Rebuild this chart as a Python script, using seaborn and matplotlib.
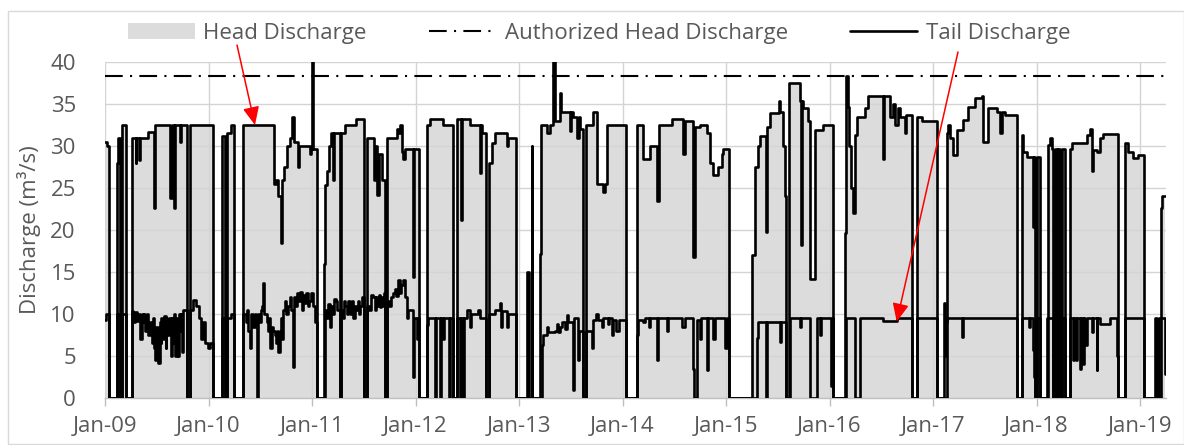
import matplotlib
matplotlib.use("Agg")
import matplotlib.pyplot as plt
import seaborn as sns
from matplotlib.patches import Patch, Rectangle
from matplotlib.lines import Line2D

# ---------------- data (time in decimal years, discharge in m3/s) ----------------
head_t = [
    2009.000, 2009.019, 2009.039, 2009.116, 2009.130, 2009.145, 2009.164, 2009.203, 2009.261, 2009.295,
    2009.304, 2009.324, 2009.338, 2009.415, 2009.473, 2009.483, 2009.628, 2009.643, 2009.667, 2009.681,
    2009.725, 2009.734, 2009.795, 2009.826, 2010.039, 2010.130, 2010.164, 2010.174, 2010.213, 2010.242,
    2010.336, 2010.636, 2010.652, 2010.671, 2010.698, 2010.710, 2010.729, 2010.756, 2010.787, 2010.810,
    2010.826, 2010.865, 2010.879, 2010.981, 2010.995, 2011.000, 2011.010, 2011.045, 2011.116, 2011.126,
    2011.145, 2011.164, 2011.184, 2011.203, 2011.213, 2011.266, 2011.280, 2011.319, 2011.425, 2011.498,
    2011.531, 2011.599, 2011.609, 2011.628, 2011.647, 2011.676, 2011.705, 2011.725, 2011.818, 2011.831,
    2011.850, 2011.870, 2011.882, 2011.899, 2011.979, 2011.990, 2012.037, 2012.108, 2012.140, 2012.268,
    2012.367, 2012.401, 2012.440, 2012.449, 2012.527, 2012.623, 2012.633, 2012.643, 2012.681, 2012.710,
    2012.736, 2012.768, 2012.881, 2012.894, 2012.968, 2013.074, 2013.097, 2013.123, 2013.130, 2013.203,
    2013.213, 2013.271, 2013.300, 2013.333, 2013.343, 2013.396, 2013.406, 2013.493, 2013.502, 2013.525,
    2013.560, 2013.580, 2013.589, 2013.621, 2013.647, 2013.718, 2013.751, 2013.812, 2013.831, 2013.847,
    2014.034, 2014.143, 2014.201, 2014.266, 2014.336, 2014.348, 2014.475, 2014.588, 2014.604, 2014.684,
    2014.696, 2014.749, 2014.816, 2014.845, 2014.877, 2014.926, 2014.958, 2014.974, 2015.032, 2015.254,
    2015.280, 2015.312, 2015.329, 2015.384, 2015.393, 2015.425, 2015.515, 2015.525, 2015.554, 2015.570,
    2015.583, 2015.609, 2015.715, 2015.725, 2015.734, 2015.747, 2015.795, 2015.812, 2015.860, 2015.940,
    2016.037, 2016.150, 2016.159, 2016.174, 2016.188, 2016.208, 2016.227, 2016.251, 2016.266, 2016.343,
    2016.375, 2016.517, 2016.527, 2016.585, 2016.614, 2016.633, 2016.662, 2016.681, 2016.729, 2016.739,
    2016.794, 2016.843, 2016.891, 2017.042, 2017.132, 2017.145, 2017.164, 2017.196, 2017.229, 2017.293,
    2017.341, 2017.406, 2017.471, 2017.486, 2017.534, 2017.615, 2017.647, 2017.662, 2017.696, 2017.809,
    2017.857, 2017.873, 2017.905, 2017.969, 2017.979, 2017.990, 2018.005, 2018.034, 2018.108, 2018.130,
    2018.147, 2018.162, 2018.179, 2018.195, 2018.211, 2018.227, 2018.243, 2018.275, 2018.324, 2018.340,
    2018.485, 2018.517, 2018.533, 2018.546, 2018.582, 2018.614, 2018.646, 2018.790, 2018.855, 2018.887,
    2018.935, 2018.984, 2019.039, 2019.200, 2019.210, 2019.242,
]
head_q = [
    30.5, 30.0, 0, 28, 31, 0, 32.5, 0, 31, 28,
    31, 28.3, 31, 31.7, 22.6, 32.5, 23.8, 32.5, 22.6, 32.5,
    30.5, 32.5, 0, 32.5, 0, 31.2, 0, 31.5, 32.5, 0,
    32.5, 25.5, 26, 24, 18.4, 26, 27.5, 30, 31, 33.5,
    30.5, 27.5, 30, 29, 29.7, 41, 29.7, 0, 16, 25.4,
    27, 30, 31.5, 26, 31.5, 0, 31.5, 32.5, 33.2, 0,
    31, 26, 30, 24.2, 29, 26, 0, 31, 32, 31.5,
    32.5, 29.3, 28.5, 29.7, 14.4, 29.7, 0, 32.5, 33.2, 32.5,
    0, 33.2, 21.2, 33.2, 32.5, 26.8, 32.5, 31.5, 0, 28,
    30.3, 31.5, 30, 31, 0, 15, 0, 30, 0, 17.2,
    32.5, 31.5, 32.5, 41, 33, 36.3, 34.1, 31.8, 34.1, 33.5,
    31, 33.5, 32, 0, 32.5, 34, 25.5, 24.5, 25.5, 32.5,
    0, 32.5, 28.5, 30, 23.4, 32.5, 33.2, 29, 33, 16.8,
    32.3, 32.5, 31.5, 28, 26.5, 27.5, 29, 29.7, 0, 17,
    27.5, 30, 31.2, 19.8, 32.3, 33.9, 35.3, 34, 30, 24,
    0, 37.5, 35.3, 18.2, 35.3, 34.5, 33, 14.2, 31.9, 32.5,
    0, 19.6, 38.3, 34.7, 30, 25, 22, 31.3, 33.5, 34.5,
    35.9, 28.5, 35.9, 33.5, 35, 32.5, 34.5, 33.5, 31.6, 33.7,
    0, 33.5, 33, 0, 31.5, 32.5, 31, 28.9, 31.9, 33.1,
    34.7, 35.7, 35.9, 30.5, 34.5, 34, 31.5, 34, 33.7, 0,
    31.3, 29.3, 28.7, 20.4, 28.7, 0, 28.7, 0, 30.1, 31,
    29.7, 0, 29.7, 0, 29.7, 0, 29.7, 0, 29.7, 30.3,
    31.3, 32, 27, 29.5, 29.3, 31, 31.4, 0, 30.4, 29.3,
    28.6, 28.9, 0, 22.6, 24, 24,
]

tail_t = [
    2009.000, 2009.014, 2009.039, 2009.116, 2009.145, 2009.164, 2009.203, 2009.261, 2009.275, 2009.290,
    2009.310, 2009.329, 2009.338, 2009.357, 2009.366, 2009.376, 2009.386, 2009.406, 2009.420, 2009.435,
    2009.454, 2009.464, 2009.474, 2009.483, 2009.493, 2009.515, 2009.527, 2009.537, 2009.544, 2009.551,
    2009.570, 2009.585, 2009.592, 2009.599, 2009.618, 2009.638, 2009.647, 2009.659, 2009.669, 2009.681,
    2009.691, 2009.705, 2009.715, 2009.725, 2009.735, 2009.744, 2009.754, 2009.795, 2009.826, 2009.850,
    2009.879, 2009.908, 2009.928, 2009.947, 2009.966, 2009.995, 2010.014, 2010.039, 2010.130, 2010.164,
    2010.174, 2010.213, 2010.242, 2010.336, 2010.360, 2010.375, 2010.385, 2010.401, 2010.411, 2010.431,
    2010.445, 2010.458, 2010.471, 2010.483, 2010.500, 2010.508, 2010.517, 2010.531, 2010.541, 2010.565,
    2010.578, 2010.585, 2010.594, 2010.610, 2010.618, 2010.626, 2010.640, 2010.652, 2010.662, 2010.674,
    2010.691, 2010.700, 2010.710, 2010.723, 2010.738, 2010.750, 2010.768, 2010.785, 2010.800, 2010.819,
    2010.829, 2010.840, 2010.852, 2010.865, 2010.878, 2010.888, 2010.900, 2010.913, 2010.930, 2010.945,
    2010.958, 2010.971, 2010.990, 2011.013, 2011.029, 2011.045, 2011.126, 2011.140, 2011.155, 2011.174,
    2011.184, 2011.200, 2011.215, 2011.232, 2011.245, 2011.266, 2011.280, 2011.295, 2011.305, 2011.319,
    2011.335, 2011.350, 2011.367, 2011.386, 2011.400, 2011.412, 2011.425, 2011.440, 2011.452, 2011.464,
    2011.480, 2011.498, 2011.531, 2011.550, 2011.568, 2011.589, 2011.605, 2011.615, 2011.628, 2011.645,
    2011.655, 2011.667, 2011.685, 2011.695, 2011.705, 2011.725, 2011.745, 2011.760, 2011.783, 2011.800,
    2011.815, 2011.831, 2011.850, 2011.862, 2011.879, 2011.899, 2011.915, 2011.928, 2011.976, 2011.986,
    2012.014, 2012.024, 2012.037, 2012.108, 2012.121, 2012.188, 2012.198, 2012.237, 2012.246, 2012.266,
    2012.275, 2012.324, 2012.333, 2012.367, 2012.401, 2012.430, 2012.440, 2012.456, 2012.464, 2012.498,
    2012.527, 2012.536, 2012.604, 2012.623, 2012.681, 2012.710, 2012.768, 2012.816, 2012.826, 2012.836,
    2012.881, 2012.894, 2012.968, 2013.219, 2013.235, 2013.268, 2013.283, 2013.348, 2013.370, 2013.380,
    2013.396, 2013.420, 2013.440, 2013.461, 2013.473, 2013.519, 2013.528, 2013.573, 2013.583, 2013.621,
    2013.647, 2013.702, 2013.718, 2013.744, 2013.764, 2013.800, 2013.810, 2013.860, 2013.870, 2013.900,
    2013.910, 2013.937, 2013.966, 2014.034, 2014.143, 2014.153, 2014.200, 2014.215, 2014.260, 2014.270,
    2014.330, 2014.343, 2014.427, 2014.440, 2014.572, 2014.604, 2014.684, 2014.694, 2014.717, 2014.749,
    2014.763, 2014.814, 2014.826, 2014.877, 2014.889, 2014.990, 2015.010, 2015.032, 2015.297, 2015.312,
    2015.384, 2015.396, 2015.522, 2015.531, 2015.583, 2015.618, 2015.715, 2015.725, 2015.812, 2015.876,
    2015.908, 2015.918, 2016.019, 2016.029, 2016.037, 2016.159, 2016.246, 2016.295, 2016.517, 2016.652,
    2016.794, 2016.843, 2017.042, 2017.106, 2017.116, 2017.126, 2017.132, 2017.280, 2017.290, 2017.809,
    2017.857, 2017.928, 2017.937, 2017.969, 2017.979, 2017.990, 2018.005, 2018.034, 2018.099, 2018.162,
    2018.179, 2018.195, 2018.211, 2018.227, 2018.243, 2018.275, 2018.324, 2018.356, 2018.362, 2018.382,
    2018.391, 2018.420, 2018.430, 2018.449, 2018.459, 2018.469, 2018.483, 2018.536, 2018.546, 2018.582,
    2018.589, 2018.614, 2018.710, 2018.778, 2018.790, 2018.855, 2019.039, 2019.145, 2019.164, 2019.184,
    2019.232, 2019.242,
]
tail_q = [
    9.3, 10, 0, 10, 0, 10, 0, 10.3, 9.0, 10.2,
    9.2, 10, 7, 10, 9.0, 10, 8, 10, 7.5, 9,
    6.5, 9.5, 6, 4.5, 8.5, 4.2, 9, 6.5, 9.5, 7,
    9.8, 6, 9.5, 7.5, 9.5, 5, 9.5, 6.5, 10, 5,
    9.5, 5, 10, 8, 10, 5.5, 10.5, 0, 10.5, 11.7,
    11, 9.5, 7, 9, 6.5, 6, 6.5, 0, 9.5, 0,
    9.5, 10, 0, 10, 9, 10.5, 8, 6, 10, 8.5,
    10, 9, 0, 10, 9, 10.5, 11, 13.7, 10, 9,
    8, 9.5, 6, 7, 8.5, 8, 7.5, 6.5, 8, 5.5,
    8, 9.5, 7, 10.5, 11.5, 10, 11, 12, 10.5, 3.7,
    12, 11, 12.5, 12.3, 11.5, 12.6, 10.5, 12.3, 11.3, 12.5,
    11, 11.5, 12.5, 11, 9, 0, 10.5, 9.5, 11.2, 8.5,
    11, 10, 11.8, 11.5, 10.5, 0, 10.5, 9.5, 11.5, 11,
    10, 11.5, 10, 11.5, 9.5, 11, 10.5, 11.5, 10, 11,
    12, 0, 11, 10.5, 12.3, 12, 10.5, 12, 11, 12.3,
    10.8, 12, 11, 12.5, 0, 11.5, 11, 12, 12.5, 13,
    12.2, 14, 12.5, 13.5, 14, 12, 9.5, 10.5, 2.5, 9.5,
    7, 9.5, 0, 8.7, 9.5, 0, 9.5, 0, 9.5, 7,
    9.5, 0, 9.5, 0, 9.5, 0, 9.5, 0, 9.5, 10.5,
    8.5, 10, 10.5, 9.5, 0, 10, 10.5, 11.3, 8.5, 10.3,
    8.5, 10, 0, 6.3, 7.5, 8.5, 7.9, 8, 8.8, 7.8,
    8.5, 9, 8.2, 9.9, 9, 1, 9.5, 4.5, 8, 0,
    8, 5.9, 9.3, 10, 9.3, 8.5, 9.5, 8.8, 9.5, 7.5,
    9.3, 8, 9.3, 0, 7.5, 9.3, 9, 9.5, 8.5, 9.5,
    4.5, 9.5, 8, 9.5, 8.5, 9.5, 3.5, 0, 9.3, 7,
    9.5, 3.3, 9.5, 7, 9.5, 5.9, 9.5, 0, 7.1, 9.1,
    0, 9.1, 6.7, 9.1, 0, 9.5, 8.5, 9.5, 0, 9.5,
    7.5, 9.5, 1.4, 9.5, 0, 9.5, 0, 9.5, 9.2, 9.5,
    0, 9.5, 0, 11.3, 5, 9, 9.5, 7.3, 9.5, 0,
    9.5, 8.5, 9.5, 5.7, 2.5, 0, 9.5, 0, 9.5, 0,
    9.5, 0, 9.5, 0, 9.5, 0, 9.5, 4.5, 9.5, 4.5,
    9.5, 3.5, 9.5, 4, 9.5, 6.3, 9.5, 7.8, 9.5, 3.3,
    9.5, 8.8, 9.5, 5, 0, 9.5, 0, 9.5, 0, 9.5,
    9.5, 2.8,
]

authorized_q = 38.3
year_ticks = list(range(2009, 2020))
year_labels = ["Jan-09", "Jan-10", "Jan-11", "Jan-12", "Jan-13", "Jan-14",
               "Jan-15", "Jan-16", "Jan-17", "Jan-18", "Jan-19"]
y_ticks = [0, 5, 10, 15, 20, 25, 30, 35, 40]
series_labels = ["Head Discharge", "Authorized Head Discharge", "Tail Discharge"]
head_arrow_point = (2010.449, 32.5)
tail_arrow_point = (2016.649, 9.1)

# ---------------- styling ----------------
sns.set_theme(style="white")
plt.rcParams["font.family"] = ["Open Sans", "DejaVu Sans"]
TXT = "#595959"
GRID = "#d4d4d4"
FILL = "#dcdcdc"
FS = 16
DASHDOT = (0, (8.5, 3.5, 1.0, 3.5))

W, H = 1184, 445
fig = plt.figure(figsize=(W / 100, H / 100), dpi=100)
ax = fig.add_axes([105 / W, 1 - 398 / H, (1166 - 105) / W, (398 - 62) / H])

ax.fill_between(head_t, head_q, step="post", color=FILL, lw=0, zorder=1)
sns.lineplot(x=head_t, y=head_q, ax=ax, color="black", lw=1.9,
             drawstyle="steps-post", estimator=None, sort=False, legend=False, zorder=3)
sns.lineplot(x=tail_t, y=tail_q, ax=ax, color="black", lw=1.9,
             drawstyle="steps-post", estimator=None, sort=False, legend=False, zorder=3)
ax.axhline(authorized_q, color="black", lw=1.5, linestyle=DASHDOT, zorder=3)

ax.set_xlim(2009.0, 2019.251)
ax.set_ylim(0, 40)
ax.set_xticks(year_ticks)
ax.set_xticklabels(year_labels)
ax.set_yticks(y_ticks)
ax.set_axisbelow("line")
ax.grid(True, color=GRID, lw=1.0)
for s in ["left", "right", "top"]:
    ax.spines[s].set_visible(False)
ax.spines["bottom"].set_color("#bfbfbf")
ax.spines["bottom"].set_linewidth(1.0)
ax.tick_params(axis="x", direction="out", length=6, width=1, color="#bfbfbf",
               labelsize=FS, labelcolor=TXT, pad=7, bottom=True)
ax.tick_params(axis="y", length=0, labelsize=FS, labelcolor=TXT, pad=21)
ax.set_xlabel("")
ax.set_ylabel("Discharge (m³/s)", fontsize=FS, color=TXT, labelpad=7)

# legend
handles = [Patch(facecolor=FILL, edgecolor="none"),
           Line2D([], [], color="black", lw=1.5, linestyle=DASHDOT),
           Line2D([], [], color="black", lw=1.9)]
fig.legend(handles, series_labels, loc="center", bbox_to_anchor=(599 / W, 1 - 33 / H),
           ncol=3, frameon=False, fontsize=FS, handlelength=3.0, handletextpad=0.4,
           columnspacing=2.8, labelcolor=TXT)

# red arrows
arrow = dict(arrowstyle="-|>,head_length=1.1,head_width=0.5", color="red", lw=1.1,
             shrinkA=0, shrinkB=0, mutation_scale=10)
ax.annotate("", xy=head_arrow_point, xytext=(237, H - 45), textcoords="figure pixels",
            arrowprops=arrow, annotation_clip=False, zorder=5)
ax.annotate("", xy=tail_arrow_point, xytext=(958, H - 52), textcoords="figure pixels",
            arrowprops=arrow, annotation_clip=False, zorder=5)

# chart border
fig.add_artist(Rectangle((7.5 / W, 1.5 / H), (W - 7.5) / W, (H - 10.7 - 1.5) / H,
                         transform=fig.transFigure, fill=False, edgecolor="#d9d9d9", lw=1.0))

fig.savefig("out.png", dpi=100)
